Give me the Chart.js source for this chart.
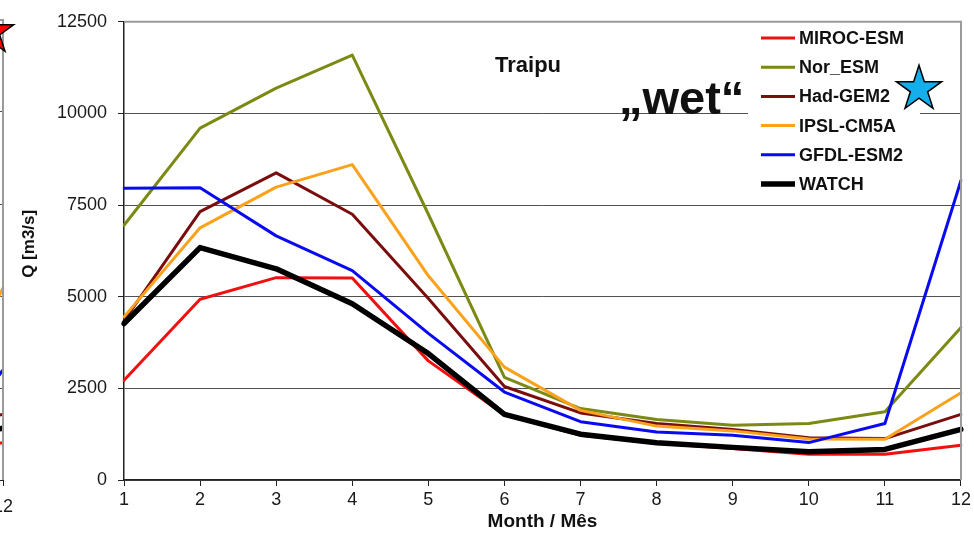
<!DOCTYPE html>
<html lang="en">
<head>
    <meta charset="UTF-8">
    <title>Traipu - Q [m3/s]</title>
    <script src="https://cdn.jsdelivr.net/npm/chart.js"></script>
    <style>
        html, body {
            margin: 0;
            padding: 0;
            background: #fff;
        }
        .wrap {
            position: relative;
            width: 974px;
            height: 534px;
            overflow: hidden;
        }
        #leftChart {
            position: absolute;
            left: -75px;
            top: 0;
        }
        #mainChart {
            position: absolute;
            left: 0;
            top: 0;
        }
    </style>
</head>
<body>
    <div class="wrap">
        <canvas id="leftChart" width="110" height="534"></canvas>
        <canvas id="mainChart" width="974" height="534"></canvas>
    </div>

    <script>
        // Data (Traipu, mean monthly discharge)
        const months = ['1', '2', '3', '4', '5', '6', '7', '8', '9', '10', '11', '12'];
        const mirocEsm = [2720, 4930, 5520, 5510, 3250, 1780, 1220, 1000, 860, 700, 700, 950];
        const norEsm   = [6950, 9600, 10690, 11590, 7250, 2800, 1950, 1650, 1495, 1540, 1860, 4160];
        const hadGem2  = [4350, 7320, 8380, 7250, 4950, 2550, 1830, 1540, 1380, 1150, 1130, 1790];
        const ipslCm5a = [4450, 6880, 7990, 8605, 5570, 3080, 1900, 1470, 1340, 1120, 1110, 2380];
        const gfdlEsm2 = [7960, 7970, 6660, 5710, 4000, 2400, 1590, 1310, 1220, 1020, 1540, 8170];
        const watch    = [4270, 6340, 5760, 4810, 3450, 1790, 1250, 1015, 890, 770, 835, 1380];
        const yTicks = [0, 2500, 5000, 7500, 10000, 12500];

        // neighbouring panel, only its last month shows at the left edge
        const leftMonths = ['11', '12'];
        const leftMiroc = [800, 1015];
        const leftHad   = [1300, 1790];
        const leftIpsl  = [1900, 5220];
        const leftGfdl  = [900, 2990];
        const leftWatch = [1050, 1410];

        const FONT = '"Liberation Sans", Arial, Helvetica, sans-serif';
        Chart.defaults.font.family = FONT;
        Chart.defaults.color = '#1a1a1a';

        const colors = {
            miroc: '#f01010',
            nor: '#7c8a14',
            had: '#7a0d0d',
            ipsl: '#fba21c',
            gfdl: '#0a0af0',
            watch: '#000000'
        };

        function line(label, data, color, width, order) {
            return {
                label: label,
                data: data,
                borderColor: color,
                backgroundColor: color,
                borderWidth: width,
                pointRadius: 0,
                tension: 0,
                fill: false,
                order: order
            };
        }

        function setTicks(values) {
            return function(scale) {
                scale.ticks = values.map(v => ({ value: v }));
            };
        }

        function gridColor(ctx) {
            return ctx.tick && ctx.tick.value === 12500 ? 'rgba(0,0,0,0)' : '#505050';
        }

        function drawStar(ctx, cx, cy, R, fill) {
            const r = R * 0.382;
            ctx.beginPath();
            for (let i = 0; i < 10; i++) {
                const rad = i % 2 === 0 ? R : r;
                const a = -Math.PI / 2 + i * Math.PI / 5;
                const px = cx + rad * Math.cos(a);
                const py = cy + rad * Math.sin(a);
                if (i === 0) ctx.moveTo(px, py); else ctx.lineTo(px, py);
            }
            ctx.closePath();
            ctx.fillStyle = fill;
            ctx.fill();
            ctx.lineWidth = 1.5;
            ctx.strokeStyle = '#000';
            ctx.stroke();
        }

        // grey frame on top and right side of the plot area
        const plotFrame = {
            id: 'plotFrame',
            afterDatasetsDraw(chart) {
                const { ctx, chartArea } = chart;
                ctx.save();
                ctx.strokeStyle = '#9a9a9a';
                ctx.lineWidth = 2;
                ctx.beginPath();
                ctx.moveTo(chartArea.left, chartArea.top);
                ctx.lineTo(chartArea.right, chartArea.top);
                ctx.lineTo(chartArea.right, chartArea.bottom);
                ctx.stroke();
                ctx.restore();
            }
        };

        // legend box inside the plot, top right
        const insideLegend = {
            id: 'insideLegend',
            afterDraw(chart) {
                const ctx = chart.ctx;
                ctx.save();
                ctx.fillStyle = '#fff';
                ctx.fillRect(748, 24, 172, 172);
                ctx.font = 'bold 18px ' + FONT;
                ctx.textBaseline = 'middle';
                ctx.textAlign = 'left';
                chart.data.datasets.forEach((ds, i) => {
                    const y = 38 + i * 29.2;
                    ctx.strokeStyle = ds.borderColor;
                    ctx.lineWidth = ds.borderWidth;
                    ctx.beginPath();
                    ctx.moveTo(761, y);
                    ctx.lineTo(795, y);
                    ctx.stroke();
                    ctx.fillStyle = '#111';
                    ctx.fillText(ds.label, 799, y + 1);
                });
                ctx.restore();
            }
        };

        // station name, "wet" note and the stars
        const notes = {
            id: 'notes',
            afterDraw(chart) {
                const ctx = chart.ctx;
                ctx.save();
                ctx.fillStyle = '#111';
                ctx.textAlign = 'left';
                ctx.textBaseline = 'alphabetic';
                ctx.font = 'bold 22px ' + FONT;
                ctx.fillText('Traipu', 495, 72);
                ctx.font = 'bold 47px ' + FONT;
                ctx.fillText('\u201Ewet\u201C', 619, 114);
                drawStar(ctx, 919, 89, 23.8, '#14aeea');
                drawStar(ctx, -9, 32, 23.8, '#ff0000');
                ctx.restore();
            }
        };

        // Main chart
        new Chart(document.getElementById('mainChart'), {
            type: 'line',
            data: {
                labels: months,
                datasets: [
                    line('MIROC-ESM', mirocEsm, colors.miroc, 3, 6),
                    line('Nor_ESM', norEsm, colors.nor, 3, 5),
                    line('Had-GEM2', hadGem2, colors.had, 3, 4),
                    line('IPSL-CM5A', ipslCm5a, colors.ipsl, 3, 3),
                    line('GFDL-ESM2', gfdlEsm2, colors.gfdl, 3, 2),
                    line('WATCH', watch, colors.watch, 5.5, 1)
                ]
            },
            options: {
                responsive: false,
                animation: false,
                layout: { padding: { top: 20, right: 12, left: 0, bottom: 0 } },
                plugins: {
                    legend: { display: false },
                    tooltip: { enabled: false }
                },
                elements: {
                    line: { borderJoinStyle: 'round', borderCapStyle: 'round' }
                },
                scales: {
                    x: {
                        offset: false,
                        grid: { drawOnChartArea: false, tickLength: 6, tickColor: '#222' },
                        border: { color: '#222', width: 1.5 },
                        ticks: { font: { size: 18 }, color: '#1a1a1a', padding: 3, autoSkip: false, maxRotation: 0 },
                        title: {
                            display: true,
                            text: 'Month / Mês',
                            font: { size: 19, weight: 'bold' },
                            color: '#111',
                            padding: { top: 0, bottom: 1 }
                        },
                        afterFit(scale) { scale.height = 54; }
                    },
                    y: {
                        min: 0,
                        max: 12500,
                        afterBuildTicks: setTicks(yTicks),
                        grid: { color: gridColor, lineWidth: 1, tickLength: 6, tickColor: '#222' },
                        border: { color: '#222', width: 1.5 },
                        ticks: {
                            font: { size: 18 },
                            color: '#1a1a1a',
                            padding: 11,
                            callback: v => String(v)
                        },
                        title: {
                            display: true,
                            text: '   Q [m3/s]',
                            font: { size: 17, weight: 'bold' },
                            color: '#111',
                            padding: { top: 19, bottom: 0 }
                        },
                        afterFit(scale) { scale.width = 124; }
                    }
                }
            },
            plugins: [plotFrame, insideLegend, notes]
        });

        // Left neighbour panel (cut off by the picture edge)
        new Chart(document.getElementById('leftChart'), {
            type: 'line',
            data: {
                labels: leftMonths,
                datasets: [
                    line('MIROC-ESM', leftMiroc, colors.miroc, 3, 6),
                    line('Had-GEM2', leftHad, colors.had, 3, 4),
                    line('IPSL-CM5A', leftIpsl, colors.ipsl, 3, 3),
                    line('GFDL-ESM2', leftGfdl, colors.gfdl, 3, 2),
                    line('WATCH', leftWatch, colors.watch, 5.5, 1)
                ]
            },
            options: {
                responsive: false,
                animation: false,
                layout: { padding: { top: 20, right: 32, left: 0, bottom: 0 } },
                plugins: {
                    legend: { display: false },
                    tooltip: { enabled: false }
                },
                scales: {
                    x: {
                        offset: false,
                        grid: { drawOnChartArea: false, tickLength: 6, tickColor: '#222' },
                        border: { color: '#222' },
                        ticks: { font: { size: 18 }, color: '#1a1a1a', padding: 10, autoSkip: false, maxRotation: 0 },
                        afterFit(scale) { scale.height = 54; }
                    },
                    y: {
                        min: 0,
                        max: 12500,
                        afterBuildTicks: setTicks(yTicks),
                        grid: { color: gridColor, drawTicks: false },
                        border: { display: false },
                        ticks: { display: false },
                        afterFit(scale) { scale.width = 0; }
                    }
                }
            },
            plugins: [plotFrame]
        });
    </script>
</body>
</html>
